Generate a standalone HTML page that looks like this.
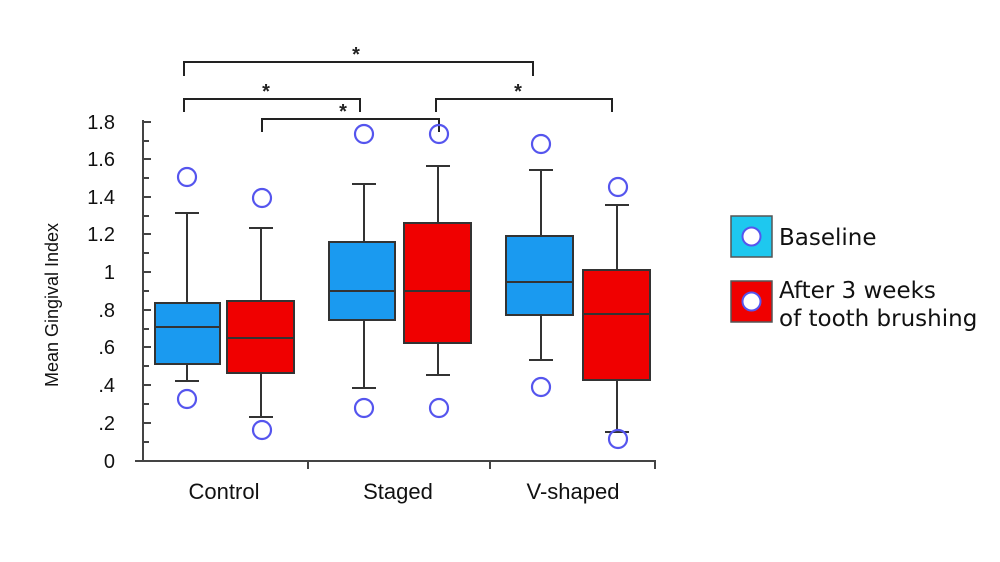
<!DOCTYPE html>
<html><head><style>body{margin:0;background:#fff}svg{display:block}</style></head><body>
<svg width="1000" height="562" xmlns="http://www.w3.org/2000/svg" font-family="Liberation Sans, sans-serif">
<rect width="1000" height="562" fill="#fff"/>
<g stroke="#222" stroke-width="2" fill="none">
<path d="M184 76 V62 H533 V76"/>
<path d="M184 112 V99 H360 V112"/>
<path d="M262 132 V119 H439 V132"/>
<path d="M436 112 V99 H612 V112"/>
</g>
<g font-size="20" font-weight="bold" text-anchor="middle" fill="#222">
<text x="356" y="61">*</text><text x="266" y="98">*</text><text x="343" y="118">*</text><text x="518" y="98">*</text>
</g>
<g stroke="#444" stroke-width="2">
<line x1="143" y1="120" x2="143" y2="461"/>
<line x1="135" y1="461" x2="656" y2="461"/>
<line x1="308" y1="461" x2="308" y2="469"/>
<line x1="490" y1="461" x2="490" y2="469"/>
<line x1="655" y1="461" x2="655" y2="469"/>
<line x1="143" y1="122" x2="151" y2="122"/><line x1="143" y1="141" x2="149" y2="141"/>
<line x1="143" y1="159" x2="151" y2="159"/><line x1="143" y1="178" x2="149" y2="178"/>
<line x1="143" y1="197" x2="151" y2="197"/><line x1="143" y1="216" x2="149" y2="216"/>
<line x1="143" y1="234" x2="151" y2="234"/><line x1="143" y1="253" x2="149" y2="253"/>
<line x1="143" y1="272" x2="151" y2="272"/><line x1="143" y1="291" x2="149" y2="291"/>
<line x1="143" y1="310" x2="151" y2="310"/><line x1="143" y1="329" x2="149" y2="329"/>
<line x1="143" y1="347" x2="151" y2="347"/><line x1="143" y1="366" x2="149" y2="366"/>
<line x1="143" y1="385" x2="151" y2="385"/><line x1="143" y1="404" x2="149" y2="404"/>
<line x1="143" y1="423" x2="151" y2="423"/><line x1="143" y1="442" x2="149" y2="442"/>
</g>
<g font-size="20" text-anchor="end" fill="#111">
<text x="115" y="129">1.8</text><text x="115" y="166">1.6</text><text x="115" y="204">1.4</text>
<text x="115" y="241">1.2</text><text x="115" y="279">1</text><text x="115" y="317">.8</text>
<text x="115" y="354">.6</text><text x="115" y="392">.4</text><text x="115" y="430">.2</text>
<text x="115" y="468">0</text>
</g>
<text transform="translate(58,305) rotate(-90)" font-size="18" text-anchor="middle" fill="#111">Mean Gingival Index</text>
<g font-size="22" text-anchor="middle" fill="#111">
<text x="224" y="499">Control</text><text x="398" y="499">Staged</text><text x="573" y="499">V-shaped</text>
</g>
<g stroke="#333" stroke-width="2">
<line x1="187" y1="213" x2="187" y2="381"/><line x1="175" y1="213" x2="199" y2="213"/><line x1="175" y1="381" x2="199" y2="381"/>
<rect x="155" y="303" width="65" height="61" fill="#1a9af0"/><line x1="155" y1="327" x2="220" y2="327"/>
<line x1="261" y1="228" x2="261" y2="417"/><line x1="249" y1="228" x2="273" y2="228"/><line x1="249" y1="417" x2="273" y2="417"/>
<rect x="227" y="301" width="67" height="72" fill="#f00000"/><line x1="227" y1="338" x2="294" y2="338"/>
<line x1="364" y1="184" x2="364" y2="388"/><line x1="352" y1="184" x2="376" y2="184"/><line x1="352" y1="388" x2="376" y2="388"/>
<rect x="329" y="242" width="66" height="78" fill="#1a9af0"/><line x1="329" y1="291" x2="395" y2="291"/>
<line x1="438" y1="166" x2="438" y2="375"/><line x1="426" y1="166" x2="450" y2="166"/><line x1="426" y1="375" x2="450" y2="375"/>
<rect x="404" y="223" width="67" height="120" fill="#f00000"/><line x1="404" y1="291" x2="471" y2="291"/>
<line x1="541" y1="170" x2="541" y2="360"/><line x1="529" y1="170" x2="553" y2="170"/><line x1="529" y1="360" x2="553" y2="360"/>
<rect x="506" y="236" width="67" height="79" fill="#1a9af0"/><line x1="506" y1="282" x2="573" y2="282"/>
<line x1="617" y1="205" x2="617" y2="432"/><line x1="605" y1="205" x2="629" y2="205"/><line x1="605" y1="432" x2="629" y2="432"/>
<rect x="583" y="270" width="67" height="110" fill="#f00000"/><line x1="583" y1="314" x2="650" y2="314"/>
</g>
<g fill="none" stroke="#5555ee" stroke-width="2.2">
<circle cx="187" cy="177" r="9"/><circle cx="187" cy="399" r="9"/>
<circle cx="262" cy="198" r="9"/><circle cx="262" cy="430" r="9"/>
<circle cx="364" cy="134" r="9"/><circle cx="364" cy="408" r="9"/>
<circle cx="439" cy="134" r="9"/><circle cx="439" cy="408" r="9"/>
<circle cx="541" cy="144" r="9"/><circle cx="541" cy="387" r="9"/>
<circle cx="618" cy="187" r="9"/><circle cx="618" cy="439" r="9"/>
</g>
<rect x="731" y="216" width="41" height="41" fill="#1ec8ef" stroke="#555" stroke-width="1.5"/>
<circle cx="751.5" cy="236.5" r="9" fill="#fff" stroke="#5555ee" stroke-width="2"/>
<rect x="731" y="281" width="41" height="41" fill="#f00000" stroke="#555" stroke-width="1.5"/>
<circle cx="751.5" cy="301.5" r="9" fill="#fff" stroke="#5555ee" stroke-width="2"/>
<g font-family="DejaVu Sans, sans-serif" font-size="23" fill="#111">
<text x="779" y="245">Baseline</text>
<text x="779" y="298">After 3 weeks</text>
<text x="779" y="326">of tooth brushing</text>
</g>
</svg>
</body></html>
